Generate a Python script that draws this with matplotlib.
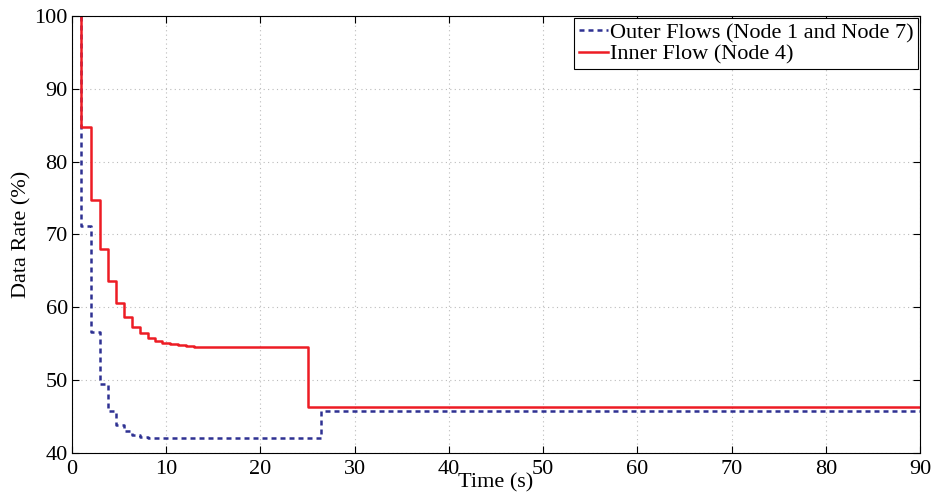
import numpy as np
import matplotlib
matplotlib.use("Agg")
import matplotlib.pyplot as plt

# dados (degraus)
inner_t = [1, 1, 2.0, 2.94, 3.86, 4.7, 5.5, 6.37, 7.2, 8.07, 8.8, 9.5, 10.4, 11.2, 12.1, 13.0, 25.0, 90]
inner_rate = [100, 84.8, 74.7, 68.0, 63.6, 60.6, 58.6, 57.3, 56.4, 55.8, 55.4, 55.1, 54.9, 54.8, 54.7, 54.6, 46.3, 46.3]

outer_t = [1, 1, 2.0, 2.97, 3.86, 4.67, 5.5, 6.37, 7.2, 8.07, 9.0, 26.4, 90]
outer_rate = [100, 71.1, 56.6, 49.4, 45.8, 43.8, 43.0, 42.5, 42.2, 42.1, 42.1, 45.7, 45.7]

xticks = list(range(0, 91, 10))
yticks = list(range(40, 101, 10))

plt.rcParams['font.family'] = ['Liberation Serif', 'DejaVu Serif']

fig = plt.figure(figsize=(9.35, 5.01), dpi=100)
ax = fig.add_axes([0.077, 0.096, 0.907, 0.872])

ax.plot(outer_t, outer_rate, drawstyle='steps-post', color='#2e3192', linestyle=(0, (2, 1.6)),
        linewidth=1.8, label='Outer Flows (Node 1 and Node 7)')
ax.plot(inner_t, inner_rate, drawstyle='steps-post', color='#ed1c24', linewidth=1.8,
        label='Inner Flow (Node 4)')

ax.set_xlim(0, 90)
ax.set_ylim(40, 100)
ax.set_xticks(xticks)
ax.set_yticks(yticks)
ax.grid(True, linestyle=(0, (1, 3)), color='#bbbbbb', linewidth=0.8)
ax.tick_params(direction='in', top=True, right=True, labelsize=16, length=5)
ax.tick_params(axis='x', pad=5)
ax.tick_params(axis='y', pad=3)
for s in ax.spines.values():
    s.set_linewidth(0.8)

ax.set_xlabel('Time (s)', fontsize=16, labelpad=-4)
ax.set_ylabel('Data Rate (%)', fontsize=16, labelpad=2)

leg = ax.legend(loc='upper right', fontsize=16, fancybox=False, framealpha=1,
                edgecolor='black', borderpad=0.2, handlelength=1.3, handletextpad=0.1,
                labelspacing=0.05, borderaxespad=0.1)
leg.get_frame().set_linewidth(0.8)

fig.savefig('out.png', dpi=100)
